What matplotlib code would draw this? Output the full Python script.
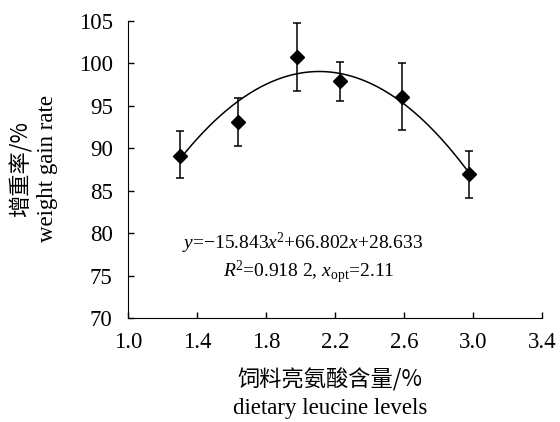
import numpy as np
import matplotlib
matplotlib.use('Agg')
from matplotlib import pyplot as plt

# leucine level (%), weight gain rate (%), error bar limits
leu_levels = [1.30, 1.636, 1.98, 2.23, 2.587, 2.975]
wgr_mean = [89.1, 93.1, 100.8, 97.9, 96.0, 87.0]
wgr_upper = [92.0, 95.9, 104.8, 100.2, 100.0, 89.7]
wgr_lower = [86.5, 90.3, 96.8, 95.6, 92.1, 84.2]

# quadratic fit from the chart text
fit_a, fit_b, fit_c = -15.843, 66.802, 28.633

x_ticks = [1.0, 1.4, 1.8, 2.2, 2.6, 3.0, 3.4]
y_ticks = [70, 75, 80, 85, 90, 95, 100, 105]

serif = 'Liberation Serif'
cjk = ['Noto Sans CJK SC', 'Liberation Serif']
plt.rcParams['font.family'] = serif
plt.rcParams['mathtext.fontset'] = 'custom'
plt.rcParams['mathtext.rm'] = serif
plt.rcParams['mathtext.it'] = serif + ':italic'

fig = plt.figure(figsize=(5.6, 4.22), dpi=100)
ax = fig.add_axes([0.2286, 0.2464, 0.7394, 0.7038])

err_lo = [m - l for m, l in zip(wgr_mean, wgr_lower)]
err_hi = [u - m for m, u in zip(wgr_mean, wgr_upper)]
ax.errorbar(leu_levels, wgr_mean, yerr=[err_lo, err_hi], fmt='D', color='black',
            markersize=7, ecolor='black', elinewidth=1.1, capsize=2.8, capthick=1.1)

xs = np.linspace(min(leu_levels), max(leu_levels), 200)
ax.plot(xs, fit_a * xs ** 2 + fit_b * xs + fit_c, color='black', lw=1.1)

ax.set_xlim(1.0, 3.4)
ax.set_ylim(70, 105)
ax.set_xticks(x_ticks)
ax.set_xticklabels([f'{v:.1f}' for v in x_ticks])
ax.set_yticks(y_ticks)
ax.tick_params(direction='in', labelsize=16.5, length=4, width=1)
ax.tick_params(axis='y', pad=11)
ax.tick_params(axis='x', pad=10)
ax.spines['top'].set_visible(False)
ax.spines['right'].set_visible(False)

ax.text(2.01, 78.84, r'$y$=−15.843$x$$^2$+66.802$x$+28.633', ha='center', va='center', fontsize=14)
ax.text(2.045, 75.4, r'$R$$^2$=0.918 2, $x$$_{\rm opt}$=2.11', ha='center', va='center', fontsize=14)

fig.text(0.589, 0.0995, '饲料亮氨酸含量/%', ha='center', va='center', fontsize=16, family=cjk)
fig.text(0.589, 0.033, 'dietary leucine levels', ha='center', va='center', fontsize=16.5)
fig.text(0.0375, 0.60, '增重率/%', ha='center', va='center', rotation=90, fontsize=16, family=cjk)
fig.text(0.084, 0.60, 'weight gain rate', ha='center', va='center', rotation=90, fontsize=16.5)

fig.savefig('out.png', dpi=100)
